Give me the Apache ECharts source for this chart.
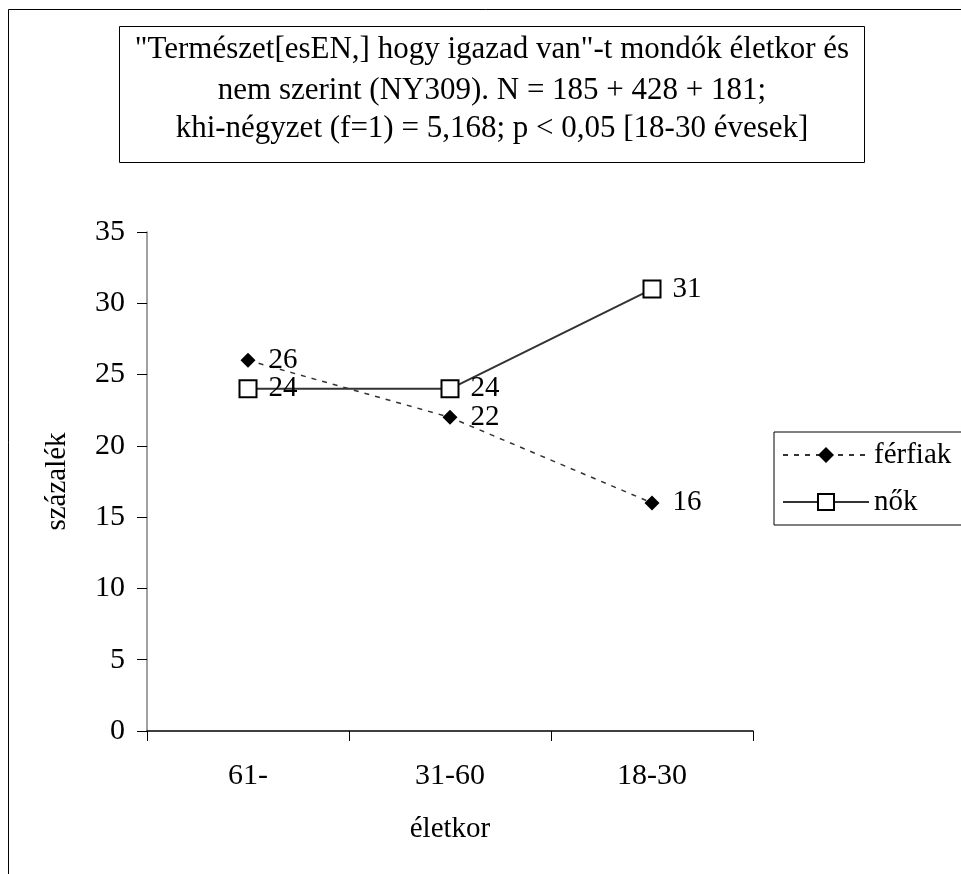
<!DOCTYPE html>
<html><head><meta charset="utf-8">
<script src="https://cdn.jsdelivr.net/npm/echarts@6/dist/echarts.min.js"></script>
<style>html,body{margin:0;padding:0;background:#fff}#c{width:961px;height:874px}</style>
</head><body><div id="c"></div>
<script>
const categories = ['61-', '31-60', '18-30'];
const ferfiak = [26, 22, 16];
const nok = [24, 24, 31];
const titleLines = [
  '"Természet[esEN,] hogy igazad van"-t mondók életkor és',
  'nem szerint (NY309). N = 185 + 428 + 181;',
  'khi-négyzet (f=1) = 5,168; p < 0,05 [18-30 évesek]'
];
const FONT = '"Liberation Serif", "Times New Roman", serif';
const chart = echarts.init(document.getElementById('c'));
chart.setOption({
  animation: false,
  backgroundColor: '#fff',
  graphic: [
    {type: 'rect', shape: {x: 8.5, y: 9.5, width: 1000, height: 1000}, style: {fill: 'none', stroke: '#000', lineWidth: 1}, silent: true, z: 0},
    {type: 'rect', shape: {x: 119.5, y: 26.5, width: 745, height: 136}, style: {fill: '#fff', stroke: '#000', lineWidth: 1}, z: 1},
    {type: 'text', x: 492, y: 49.5, z: 2, style: {text: titleLines[0], fontFamily: FONT, fontSize: 31, fill: '#000', align: 'center', verticalAlign: 'middle'}},
    {type: 'text', x: 492, y: 90.5, z: 2, style: {text: titleLines[1], fontFamily: FONT, fontSize: 31, fill: '#000', align: 'center', verticalAlign: 'middle'}},
    {type: 'text', x: 492, y: 128.5, z: 2, style: {text: titleLines[2], fontFamily: FONT, fontSize: 31, fill: '#000', align: 'center', verticalAlign: 'middle'}}
  ],
  grid: {left: 147, right: 208, top: 232, bottom: 143},
  legend: {
    orient: 'vertical', left: 774, top: 432,
    borderColor: '#000', borderWidth: 1, padding: [8, 12, 8, 8],
    itemWidth: 86, itemHeight: 20, itemGap: 17,
    textStyle: {fontFamily: FONT, fontSize: 29, color: '#000', lineHeight: 30},
    data: ['férfiak', 'nők']
  },
  xAxis: {
    type: 'category', data: categories,
    name: 'életkor', nameLocation: 'middle', nameGap: 84,
    nameTextStyle: {fontFamily: FONT, fontSize: 29, color: '#000'},
    axisLine: {lineStyle: {color: '#000', width: 1.5}},
    axisTick: {show: true, length: 10, inside: false, lineStyle: {color: '#000'}},
    axisLabel: {fontFamily: FONT, fontSize: 30, color: '#000', margin: 30},
    splitLine: {show: false}
  },
  yAxis: {
    type: 'value', min: 0, max: 35, interval: 5,
    name: 'százalék', nameLocation: 'middle', nameGap: 75,
    nameTextStyle: {fontFamily: FONT, fontSize: 29, color: '#000'},
    axisLine: {show: true, lineStyle: {color: '#808080', width: 1.5}},
    axisTick: {show: true, length: 10, lineStyle: {color: '#000'}},
    axisLabel: {fontFamily: FONT, fontSize: 30, color: '#000', margin: 22},
    splitLine: {show: false}
  },
  series: [
    {
      name: 'férfiak', type: 'line', data: ferfiak,
      symbol: 'diamond', symbolSize: 15,
      itemStyle: {color: '#000'},
      lineStyle: {color: '#333', width: 1.5, type: [5, 6]},
      label: {show: true, position: 'right', distance: 13, fontFamily: FONT, fontSize: 29, color: '#000'},
      z: 3
    },
    {
      name: 'nők', type: 'line', data: nok,
      symbol: 'rect', symbolSize: 17,
      itemStyle: {color: '#fff', borderColor: '#000', borderWidth: 2},
      lineStyle: {color: '#333', width: 2, type: 'solid'},
      label: {show: true, position: 'right', distance: 11, fontFamily: FONT, fontSize: 29, color: '#000'},
      z: 2
    }
  ]
});
</script></body></html>
